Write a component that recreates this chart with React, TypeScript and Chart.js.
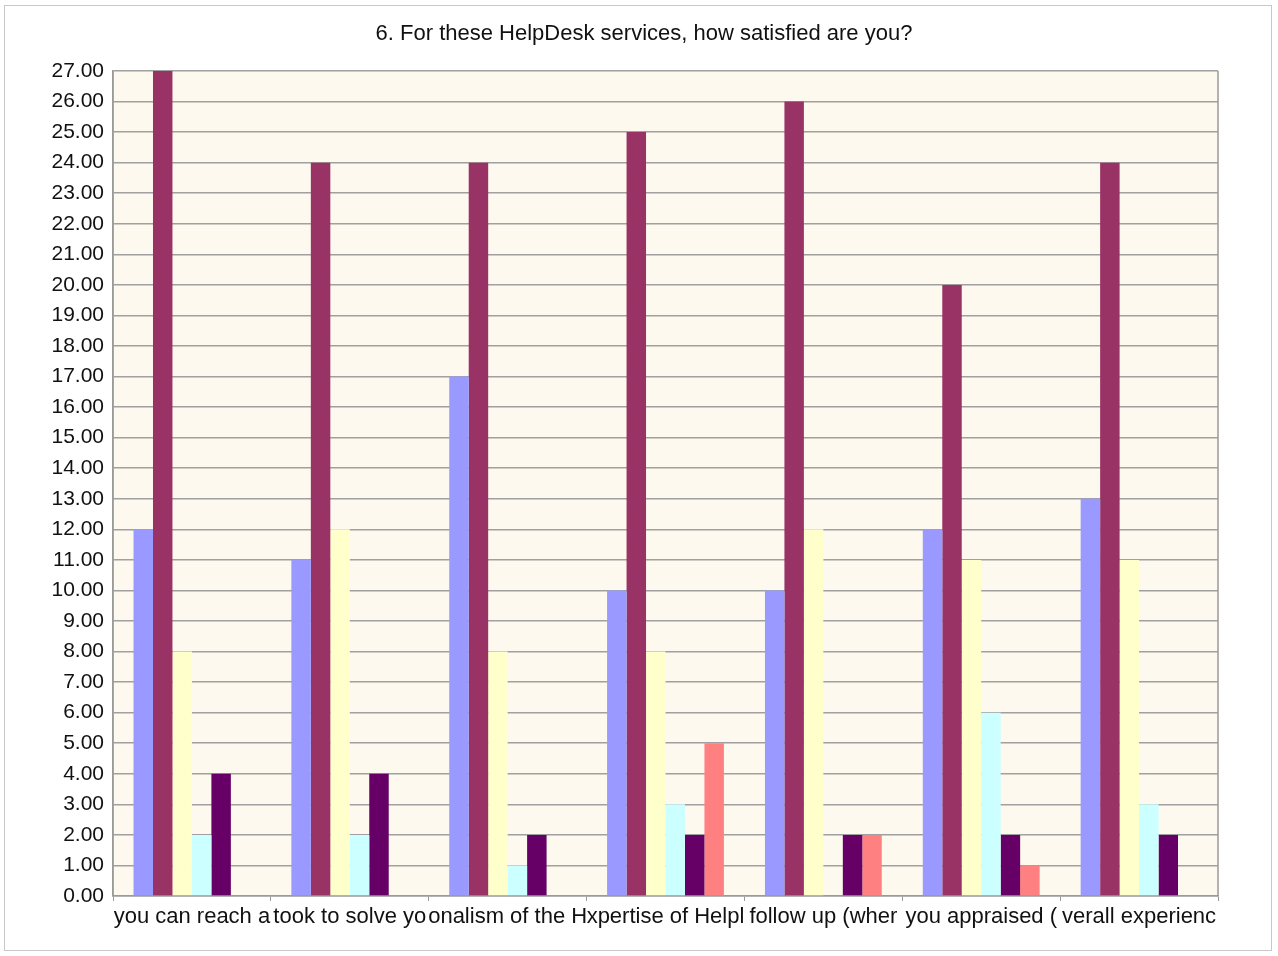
import React, { useEffect, useRef } from "react";
import { Chart, registerables } from "chart.js";

Chart.register(...registerables);

const categories = [
  "you can reach a",
  "took to solve yo",
  "onalism of the H",
  "xpertise of Helpl",
  "follow up (wher",
  "you appraised (",
  "verall experienc",
];

const series1 = [12, 11, 17, 10, 10, 12, 13];
const series2 = [27, 24, 24, 25, 26, 20, 24];
const series3 = [8, 12, 8, 8, 12, 11, 11];
const series4 = [2, 2, 1, 3, 0, 6, 3];
const series5 = [4, 4, 2, 2, 2, 2, 2];
const series6 = [0, 0, 0, 5, 2, 1, 0];

const seriesColors = ["#9999FF", "#993366", "#FFFFCC", "#CCFFFF", "#660066", "#FF8080"];
const title = "6. For these HelpDesk services, how satisfied are you?";

const plotFrame = {
  id: "plotFrame",
  beforeDraw(chart: any) {
    const { ctx, chartArea } = chart;
    ctx.save();
    ctx.fillStyle = "#FDF9EE";
    ctx.fillRect(chartArea.left, chartArea.top, chartArea.right - chartArea.left, chartArea.bottom - chartArea.top);
    ctx.restore();
  },
  afterDraw(chart: any) {
    const { ctx, chartArea } = chart;
    ctx.save();
    ctx.strokeStyle = "#9A9A9A";
    ctx.lineWidth = 1.5;
    ctx.beginPath();
    ctx.moveTo(chartArea.right, chartArea.top);
    ctx.lineTo(chartArea.right, chartArea.bottom);
    ctx.moveTo(chartArea.left, chartArea.top);
    ctx.lineTo(chartArea.left, chartArea.bottom);
    ctx.stroke();
    ctx.fillStyle = "#111";
    ctx.font = "22px 'Liberation Sans'";
    ctx.textAlign = "center";
    ctx.textBaseline = "middle";
    ctx.fillText(title, 644, 34);
    ctx.restore();
  },
};

export default function App() {
  const ref = useRef<HTMLCanvasElement>(null);
  useEffect(() => {
    document.body.style.margin = "0";
    const all = [series1, series2, series3, series4, series5, series6];
    const chart = new Chart(ref.current!, {
      type: "bar",
      data: {
        labels: categories,
        datasets: all.map((d, i) => ({
          label: "S" + (i + 1),
          data: d,
          backgroundColor: seriesColors[i],
          borderWidth: 0,
          categoryPercentage: 0.74,
          barPercentage: 1,
        })),
      },
      options: {
        animation: false,
        responsive: false,
        maintainAspectRatio: false,
        layout: { padding: { left: 0, right: 60, top: 71, bottom: 0 } },
        plugins: {
          legend: { display: false },
          tooltip: { enabled: false },
          title: { display: false },
        },
        scales: {
          x: {
            grid: {
              display: true,
              drawOnChartArea: false,
              drawTicks: true,
              tickLength: 5,
              color: "#9A9A9A",
              offset: true,
            },
            border: { display: true, color: "#9A9A9A", width: 1.5 },
            ticks: {
              autoSkip: false,
              maxRotation: 0,
              minRotation: 0,
              color: "#111",
              padding: 3,
              font: { family: "Liberation Sans", size: 22 },
            },
            afterFit: (s: any) => {
              s.height = 60;
            },
          },
          y: {
            min: 0,
            max: 27,
            grid: { color: "#A0A0A0", lineWidth: 1.5, drawTicks: false },
            border: { display: true, color: "#9A9A9A", width: 1.5 },
            ticks: {
              stepSize: 1,
              color: "#111",
              padding: 9,
              font: { family: "Liberation Sans", size: 21 },
              callback: (v: any) => Number(v).toFixed(2),
            },
            afterFit: (s: any) => {
              s.width = 113;
            },
          },
        },
      },
      plugins: [plotFrame],
    });
    return () => chart.destroy();
  }, []);
  return (
    <div style={{ position: "relative", width: 1278, height: 956, background: "#fff" }}>
      <div
        style={{
          position: "absolute",
          left: 4,
          top: 5,
          width: 1268,
          height: 946,
          border: "1px solid #C8C8C8",
          boxSizing: "border-box",
        }}
      />
      <canvas ref={ref} width={1278} height={956} style={{ position: "absolute", left: 0, top: 0 }} />
    </div>
  );
}
